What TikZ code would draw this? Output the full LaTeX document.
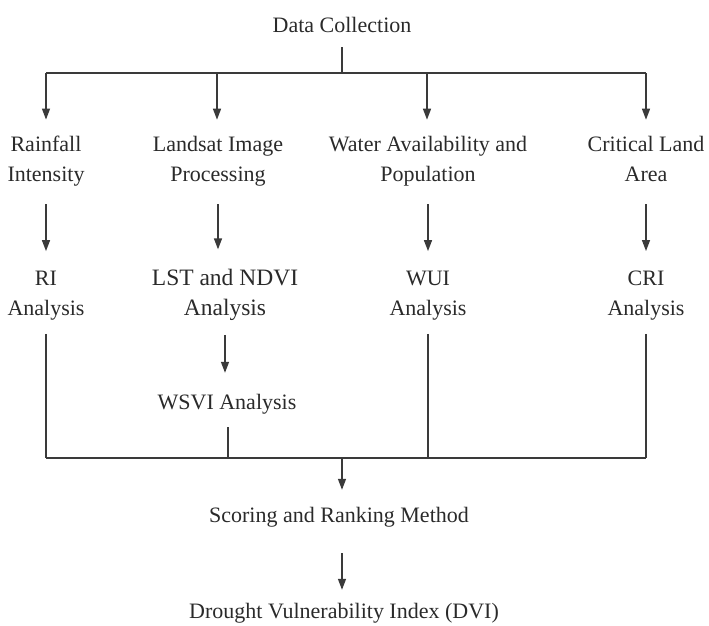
\documentclass[tikz,border=0pt]{standalone}
\usepackage{fontspec}
\setmainfont{Liberation Serif}
\usetikzlibrary{arrows.meta}
\definecolor{ink}{HTML}{3A3A3A}
\definecolor{txt}{HTML}{2A2A2A}
\begin{document}
\begin{tikzpicture}[x=1pt,y=-1pt,
  lbl/.style={inner sep=0pt, align=center, text=txt,
    font=\fontsize{22}{30}\selectfont,
    execute at begin node=\strut, execute at end node=\strut},
  big/.style={lbl, font=\fontsize{23.5}{30}\selectfont},
  ln/.style={draw=ink, line width=1.4pt},
  arr/.style={ln, -{Triangle[length=11pt,width=8pt]}}]
\useasboundingbox (0,0) rectangle (709,625);
% nodes
\node[lbl] (dc) at (342,26.3) {Data Collection};
\node[lbl] (rf) at (46,163.3) {Rainfall\\Intensity};
\node[lbl] (lip) at (218,163.3) {Landsat Image\\Processing};
\node[lbl] (wap) at (428,163.3) {Water Availability and\\Population};
\node[lbl] (cla) at (646,163.3) {Critical Land\\Area};
\node[lbl] (ri) at (46,297.3) {RI\\Analysis};
\node[big] (lst) at (225,296.5) {LST and NDVI\\Analysis};
\node[lbl] (wui) at (428,297.3) {WUI\\Analysis};
\node[lbl] (cri) at (646,297.3) {CRI\\Analysis};
\node[lbl] (wsvi) at (227,403.3) {WSVI Analysis};
\node[lbl] (srm) at (339,516.3) {Scoring and Ranking Method};
\node[lbl] (dvi) at (344,612.3) {Drought Vulnerability Index (DVI)};
% top distribution
\coordinate (tb) at (342,73);
\draw[ln, shorten <=5.7pt] (dc.south) -- (dc.south |- tb);
\draw[ln] (rf.north |- tb) -- (cla.north |- tb);
\foreach \n/\d in {rf/0,lip/-1,wap/-1,cla/0}
  \draw[arr, shorten >=16.3pt] ([xshift=\d pt]\n.north |- tb) -- ([xshift=\d pt]\n.north);
% second row arrows
\foreach \a/\b in {rf/ri,lip/lst,wap/wui,cla/cri}
  \draw[arr, shorten <=13.7pt, shorten >=19.3pt] (\a.south) -- (\a.south |- \b.north);
\draw[arr, shorten <=10.5pt, shorten >=15.3pt] (lst.south) -- (lst.south |- wsvi.north);
% bottom collection
\coordinate (bb) at (342,458);
\foreach \n in {ri,wui,cri}
  \draw[ln, shorten <=9.7pt] (\n.south) -- (\n.south |- bb);
\draw[ln, shorten <=8.7pt] ([xshift=1pt]wsvi.south) -- ([xshift=1pt]wsvi.south |- bb);
\draw[ln] (ri.south |- bb) -- (cri.south |- bb);
\draw[arr, shorten >=11.3pt] (bb) -- (bb |- srm.north);
\draw[arr, shorten <=21.7pt, shorten >=7.3pt] (srm.south -| bb) -- (bb |- dvi.north);
\end{tikzpicture}
\end{document}
